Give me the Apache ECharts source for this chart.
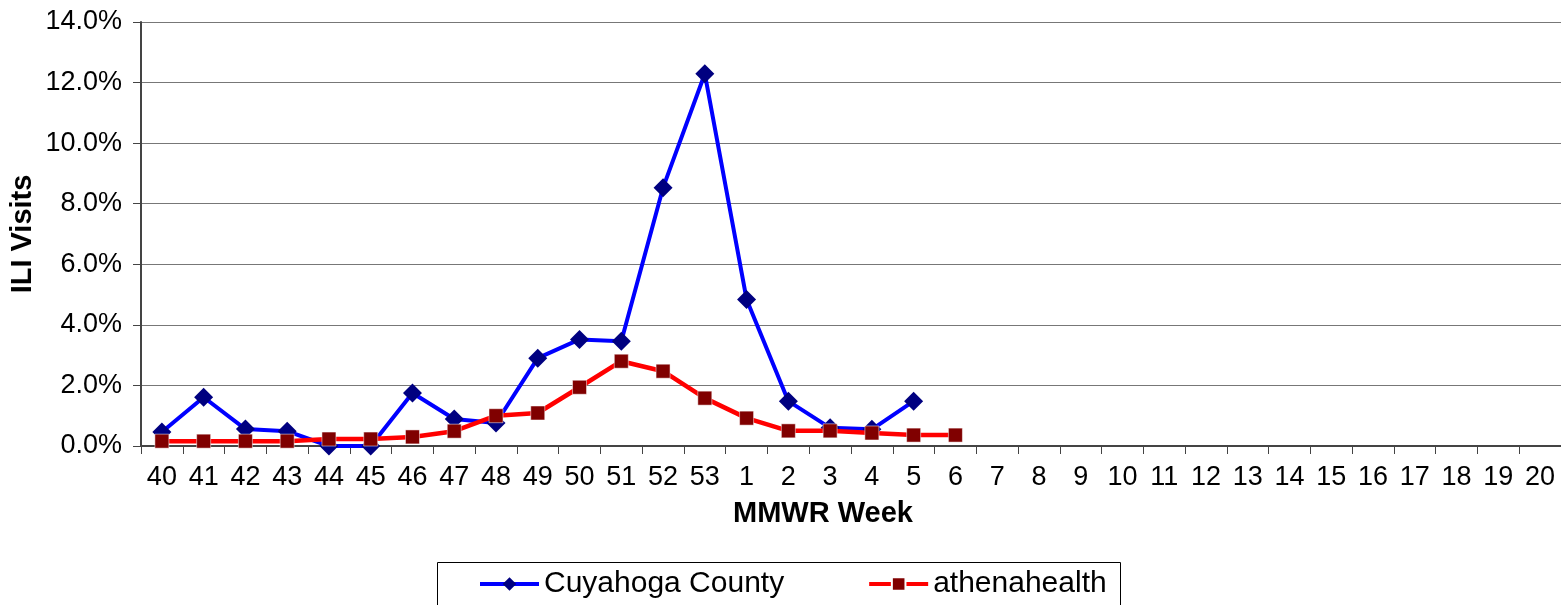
<!DOCTYPE html>
<html>
<head>
<meta charset="utf-8">
<script src="https://cdn.jsdelivr.net/npm/echarts@6/dist/echarts.min.js"></script>
<style>
  html, body { margin: 0; padding: 0; background: #fff; }
  #chart { width: 1561px; height: 605px; }
</style>
</head>
<body>
<div id="chart"></div>
<script>
// MMWR weeks 40..53 then 1..20
const weeks = ['40', '41', '42', '43', '44', '45', '46', '47', '48', '49', '50', '51', '52', '53',
  '1', '2', '3', '4', '5', '6', '7', '8', '9', '10', '11', '12', '13', '14', '15', '16', '17', '18', '19', '20']

// percent of visits
const cuyahoga = [0.46, 1.61, 0.56, 0.49, 0.0, 0.0, 1.75, 0.89, 0.76, 2.9, 3.52, 3.46, 8.53, 12.29,
  4.84, 1.48, 0.6, 0.55, 1.48]
const athena = [0.16, 0.16, 0.16, 0.16, 0.23, 0.23, 0.3, 0.49, 1.0, 1.09, 1.94, 2.8, 2.47, 1.58,
  0.92, 0.5, 0.5, 0.43, 0.36, 0.36]

const yTicks = { min: 0, max: 14, step: 2 }

const font = 'Liberation Sans, Arial, sans-serif'
const chart = echarts.init(document.getElementById('chart'))

chart.setOption({
  animation: false,
  grid: { left: 137, right: -3, top: 22, bottom: 159 },
  legend: {
    left: 473,
    top: 564,
    itemGap: 83,
    itemWidth: 59,
    itemHeight: 17,
    lineStyle: { width: 4 },
    textStyle: { fontFamily: font, fontSize: 30, color: '#000' },
    data: ['Cuyahoga County', 'athenahealth']
  },
  graphic: [{
    type: 'rect',
    shape: { x: 437.5, y: 562.5, width: 683, height: 50 },
    style: { fill: 'none', stroke: '#000', lineWidth: 1 },
    silent: true
  }],
  xAxis: {
    type: 'category',
    data: weeks,
    boundaryGap: true,
    name: 'MMWR Week',
    nameLocation: 'middle',
    nameGap: 53,
    nameMoveOverlap: false,
    nameTextStyle: { fontFamily: font, fontSize: 29, fontWeight: 'bold', color: '#000', padding: [0, 56, 0, 0] },
    axisLine: { lineStyle: { color: '#444', width: 2 } },
    axisTick: { show: true, length: 8, alignWithLabel: false, lineStyle: { color: '#444', width: 1 } },
    axisLabel: { fontFamily: font, fontSize: 27, color: '#000', margin: 18, interval: 0 },
    splitLine: { show: false }
  },
  yAxis: {
    type: 'value',
    min: yTicks.min,
    max: yTicks.max,
    interval: yTicks.step,
    name: 'ILI Visits',
    nameLocation: 'middle',
    nameGap: 104,
    nameMoveOverlap: false,
    nameTextStyle: { fontFamily: font, fontSize: 29, fontWeight: 'bold', color: '#000' },
    axisLine: { show: true, lineStyle: { color: '#444', width: 2 } },
    axisTick: { show: true, length: 8, lineStyle: { color: '#444' } },
    axisLabel: {
      fontFamily: font, fontSize: 27, color: '#000', margin: 19,
      formatter: v => v.toFixed(1) + '%'
    },
    splitLine: { lineStyle: { color: '#777', width: 1 } }
  },
  series: [
    {
      name: 'Cuyahoga County',
      type: 'line',
      data: cuyahoga,
      symbol: 'diamond',
      symbolSize: 19,
      lineStyle: { color: '#0000ff', width: 4 },
      itemStyle: { color: '#000080' },
      z: 2
    },
    {
      name: 'athenahealth',
      type: 'line',
      data: athena,
      symbol: 'rect',
      symbolSize: 14,
      lineStyle: { color: '#ff0000', width: 4.5 },
      itemStyle: { color: '#800000', borderColor: '#fff', borderWidth: 0.5 },
      z: 3
    }
  ]
})
</script>
</body>
</html>
